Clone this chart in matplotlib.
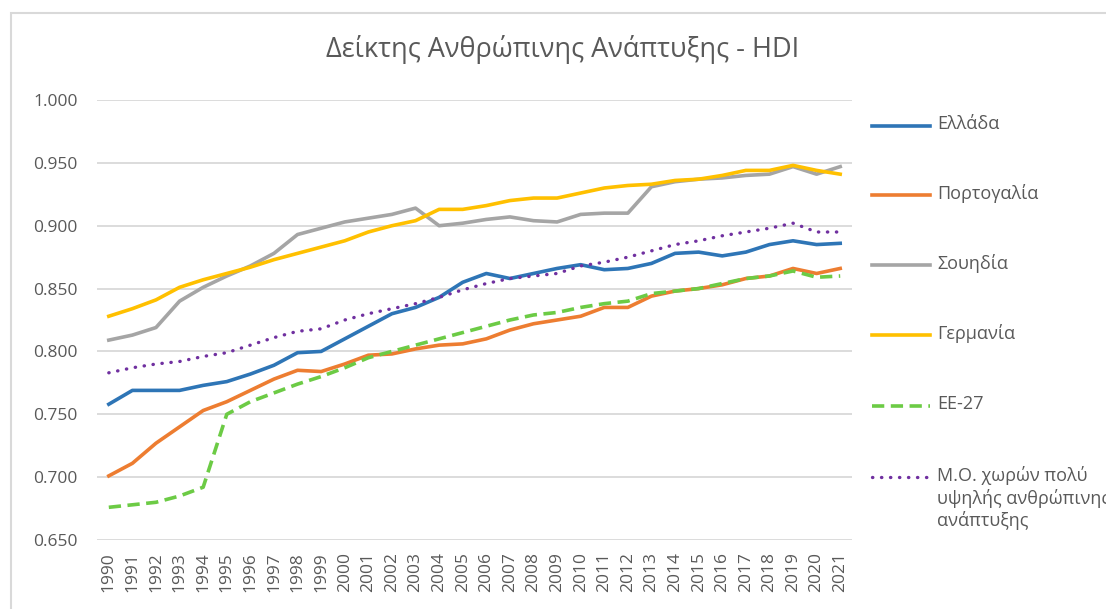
import numpy as np
import matplotlib
matplotlib.use('Agg')
import matplotlib.pyplot as plt
from matplotlib.patches import Rectangle
from matplotlib.lines import Line2D

plt.rcParams['font.family'] = ['Open Sans', 'DejaVu Sans']

years = list(range(1990, 2022))

greece = [0.758, 0.769, 0.769, 0.769, 0.773, 0.776, 0.782, 0.789, 0.799, 0.800,
          0.810, 0.820, 0.830, 0.835, 0.843, 0.855, 0.862, 0.858, 0.862, 0.866,
          0.869, 0.865, 0.866, 0.870, 0.878, 0.879, 0.876, 0.879, 0.885, 0.888,
          0.885, 0.886]
portugal = [0.701, 0.711, 0.727, 0.740, 0.753, 0.760, 0.769, 0.778, 0.785, 0.784,
            0.790, 0.797, 0.798, 0.802, 0.805, 0.806, 0.810, 0.817, 0.822, 0.825,
            0.828, 0.835, 0.835, 0.844, 0.848, 0.850, 0.853, 0.858, 0.860, 0.866,
            0.862, 0.866]
sweden = [0.809, 0.813, 0.819, 0.840, 0.851, 0.860, 0.868, 0.878, 0.893, 0.898,
          0.903, 0.906, 0.909, 0.914, 0.900, 0.902, 0.905, 0.907, 0.904, 0.903,
          0.909, 0.910, 0.910, 0.931, 0.935, 0.937, 0.938, 0.940, 0.941, 0.947,
          0.941, 0.947]
germany = [0.828, 0.834, 0.841, 0.851, 0.857, 0.862, 0.867, 0.873, 0.878, 0.883,
           0.888, 0.895, 0.900, 0.904, 0.913, 0.913, 0.916, 0.920, 0.922, 0.922,
           0.926, 0.930, 0.932, 0.933, 0.936, 0.937, 0.940, 0.944, 0.944, 0.948,
           0.944, 0.941]
eu27 = [0.676, 0.678, 0.680, 0.685, 0.692, 0.750, 0.760, 0.767, 0.774, 0.780,
        0.787, 0.795, 0.800, 0.805, 0.810, 0.815, 0.820, 0.825, 0.829, 0.831,
        0.835, 0.838, 0.840, 0.846, 0.848, 0.850, 0.854, 0.858, 0.860, 0.864,
        0.859, 0.860]
very_high = [0.783, 0.787, 0.790, 0.792, 0.796, 0.799, 0.805, 0.811, 0.816, 0.818,
             0.825, 0.830, 0.834, 0.838, 0.843, 0.849, 0.854, 0.858, 0.860, 0.862,
             0.868, 0.871, 0.875, 0.880, 0.885, 0.888, 0.892, 0.895, 0.898, 0.902,
             0.895, 0.895]

labels = ['Ελλάδα', 'Πορτογαλία', 'Σουηδία', 'Γερμανία', 'ΕΕ-27',
          'Μ.Ο. χωρών πολύ\nυψηλής ανθρώπινης\nανάπτυξης']

W, H = 1106, 609
fig = plt.figure(figsize=(W / 100, H / 100), dpi=100)
ax = fig.add_axes([97/W, 1 - 540/H, (852 - 97)/W, 440/H])

# outer chart border
fig.patches.append(Rectangle((11/W, -0.1), 1.2, 1 - 13/H + 0.1,
                             transform=fig.transFigure, fill=False,
                             edgecolor='#d9d9d9', linewidth=1.5))

styles = [
    dict(color='#2E75B6', lw=2.6),
    dict(color='#ED7D31', lw=2.6),
    dict(color='#A5A5A5', lw=2.6),
    dict(color='#FFC000', lw=2.6),
    dict(color='#6CCB45', lw=2.6, ls=(0, (3.4, 1.8))),
    dict(color='#7030A0', lw=2.4, ls=(0, (0.1, 2.6)), dash_capstyle='round'),
]
series = [greece, portugal, sweden, germany, eu27, very_high]

x = np.arange(len(years))
for vals, st in zip(series, styles):
    ax.plot(x, vals, **st)

ax.set_xlim(-0.5, len(years) - 0.5)
ax.set_ylim(0.65, 1.0)
yt = np.arange(0.65, 1.0001, 0.05)
ax.set_yticks(yt)
ax.set_yticklabels([f'{v:.3f}' for v in yt])
ax.set_xticks(x)
ax.set_xticklabels([str(y) for y in years], rotation=90)
ax.tick_params(axis='both', length=0, labelsize=12.5, colors='#595959')
ax.tick_params(axis='y', pad=14)
ax.tick_params(axis='x', pad=9)
ax.grid(axis='y', color='#d9d9d9', lw=1.3)
ax.set_axisbelow(True)
for s in ax.spines.values():
    s.set_visible(False)

fig.text(563/W, 1 - 50/H, 'Δείκτης Ανθρώπινης Ανάπτυξης - HDI',
         ha='center', va='center', fontsize=19.5, color='#595959')

# legend, drawn by hand so the multi-line entry aligns to its first line
leg_y = [126, 195, 265, 335, 406, 477]
for st, lab, yp in zip(styles, labels, leg_y):
    yf = 1 - yp / H
    fig.add_artist(Line2D([872/W, 930/W], [yf, yf], transform=fig.transFigure, **st))
    fig.text(937/W, yf + 11/H, lab, ha='left', va='top', fontsize=13,
             color='#595959', linespacing=1.25)

fig.savefig('out.png', dpi=100)
